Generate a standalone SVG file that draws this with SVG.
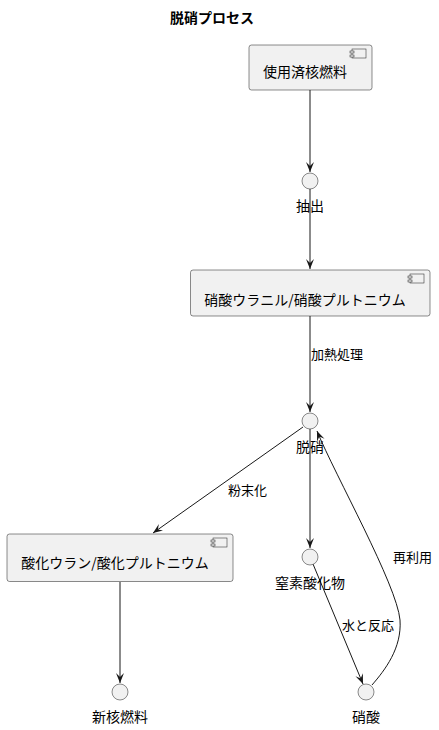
<svg xmlns="http://www.w3.org/2000/svg" width="439" height="730" viewBox="0 0 439 730">
<defs>
<style>
.box{fill:#F1F1F1;stroke:#181818;stroke-width:0.5}
.ic{fill:#F1F1F1;stroke:#181818;stroke-width:0.5}
.ci{fill:#F1F1F1;stroke:#181818;stroke-width:0.5}
.ln{fill:none;stroke:#181818;stroke-width:1}
.t{font-family:"Noto Sans CJK JP","Noto Sans",sans-serif;font-size:14px;fill:#000}
.l{font-family:"Noto Sans CJK JP","Noto Sans",sans-serif;font-size:13px;fill:#000}
.m{text-anchor:middle}
</style>
<marker id="ah" markerUnits="userSpaceOnUse" markerWidth="11" markerHeight="9" refX="10" refY="4" orient="auto">
<path d="M0,0 L10,4 L0,8 L4,4 Z" fill="#181818"/>
</marker>
</defs>
<rect width="439" height="730" fill="#FFFFFF"/>
<text x="212" y="23" class="t m" font-weight="bold">脱硝プロセス</text>

<g id="connectors">
<path class="ln" d="M310,90 L310,172" marker-end="url(#ah)"/>
<path class="ln" d="M310,189 L310,269" marker-end="url(#ah)"/>
<path class="ln" d="M310,316 L310,412" marker-end="url(#ah)"/>
<path class="ln" d="M303,427 L153,533" marker-end="url(#ah)"/>
<path class="ln" d="M120,582 L120,683" marker-end="url(#ah)"/>
<path class="ln" d="M310,429 L310,548" marker-end="url(#ah)"/>
<path class="ln" d="M313,564 L363,684" marker-end="url(#ah)"/>
<path class="ln" d="M372,685 C385,670 402,648 400,620 C397,585 335,475 317,431" marker-end="url(#ah)"/>
<text x="311" y="359" class="l">加熱処理</text>
<text x="228" y="495" class="l">粉末化</text>
<text x="342" y="630" class="l">水と反応</text>
<text x="393" y="562" class="l">再利用</text>
</g>

<g id="spent_fuel">
<rect x="249" y="45" width="123" height="45" rx="2.5" class="box"/>
<rect x="352" y="49" width="14" height="9" class="ic"/>
<rect x="350" y="51" width="4" height="2" class="ic"/>
<rect x="350" y="55" width="4" height="2" class="ic"/>
<text x="305" y="77" class="t m">使用済核燃料</text>
</g>

<g id="extraction">
<circle cx="310" cy="181" r="8" class="ci"/>
<text x="310" y="211" class="t m">抽出</text>
</g>

<g id="nitrates">
<rect x="190.5" y="270" width="239.5" height="46" rx="2.5" class="box"/>
<rect x="410" y="274" width="14" height="9" class="ic"/>
<rect x="408" y="276" width="4" height="2" class="ic"/>
<rect x="408" y="280" width="4" height="2" class="ic"/>
<text x="305" y="305" class="t m">硝酸ウラニル/硝酸プルトニウム</text>
</g>

<g id="denitration">
<circle cx="310" cy="421" r="8" class="ci"/>
<text x="310" y="452" class="t m">脱硝</text>
</g>

<g id="oxides">
<rect x="7" y="534" width="226" height="47.5" rx="2.5" class="box"/>
<rect x="213" y="538" width="14" height="9" class="ic"/>
<rect x="211" y="540" width="4" height="2" class="ic"/>
<rect x="211" y="544" width="4" height="2" class="ic"/>
<text x="115" y="568" class="t m">酸化ウラン/酸化プルトニウム</text>
</g>

<g id="new_fuel">
<circle cx="120" cy="692" r="8" class="ci"/>
<text x="120" y="722" class="t m">新核燃料</text>
</g>

<g id="nox">
<circle cx="310" cy="557" r="8" class="ci"/>
<text x="310" y="588" class="t m">窒素酸化物</text>
</g>

<g id="nitric_acid">
<circle cx="366" cy="692" r="8" class="ci"/>
<text x="366" y="722" class="t m">硝酸</text>
</g>
</svg>
